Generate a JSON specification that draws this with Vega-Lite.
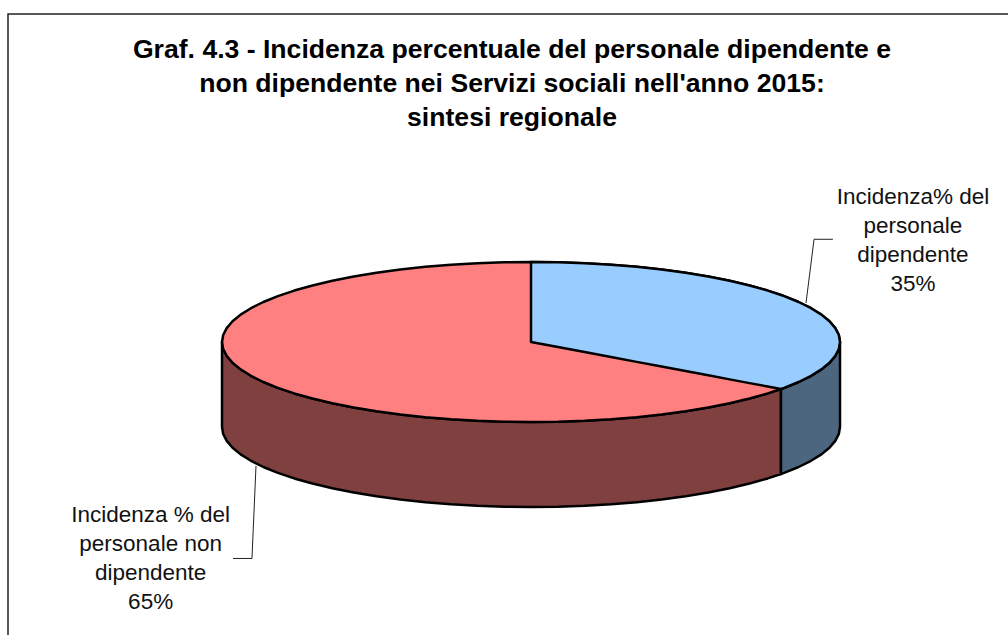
{
"$schema":"https://vega.github.io/schema/vega-lite/v6.json",
"width":1000,"height":621,
"autosize":"none",
"padding":{"left":8,"top":14,"right":0,"bottom":0},
"background":"white",
"view":{"stroke":null,"fill":"white"},
"title":{"text":["Graf. 4.3 - Incidenza percentuale del personale dipendente e","non dipendente nei Servizi sociali nell'anno 2015:","sintesi regionale"],"anchor":"middle","frame":"group","font":"Liberation Sans","fontSize":26.6,"fontWeight":"bold","color":"black","lineHeight":34,"baseline":"alphabetic","offset":-142,"dx":4},
"datasets":{
"cornice":[{"ord":1,"x":-1.6926,"y":-3.6625},{"ord":2,"x":-1.6926,"y":4.1},{"ord":3,"x":1.5437,"y":4.1}],
"lato65":[
{"part":"non dipendente, lato","x":-1,"y":0,"y2":-1.0625},{"part":"non dipendente, lato","x":-0.9962,"y":-0.0872,"y2":-1.1497},{"part":"non dipendente, lato","x":-0.9848,"y":-0.1736,"y2":-1.2361},{"part":"non dipendente, lato","x":-0.9659,"y":-0.2588,"y2":-1.3213},{"part":"non dipendente, lato","x":-0.9397,"y":-0.342,"y2":-1.4045},{"part":"non dipendente, lato","x":-0.9063,"y":-0.4226,"y2":-1.4851},{"part":"non dipendente, lato","x":-0.866,"y":-0.5,"y2":-1.5625},{"part":"non dipendente, lato","x":-0.8192,"y":-0.5736,"y2":-1.6361},{"part":"non dipendente, lato","x":-0.766,"y":-0.6428,"y2":-1.7053},{"part":"non dipendente, lato","x":-0.7071,"y":-0.7071,"y2":-1.7696},{"part":"non dipendente, lato","x":-0.6428,"y":-0.766,"y2":-1.8285},{"part":"non dipendente, lato","x":-0.5736,"y":-0.8192,"y2":-1.8817},{"part":"non dipendente, lato","x":-0.5,"y":-0.866,"y2":-1.9285},{"part":"non dipendente, lato","x":-0.4226,"y":-0.9063,"y2":-1.9688},{"part":"non dipendente, lato","x":-0.342,"y":-0.9397,"y2":-2.0022},{"part":"non dipendente, lato","x":-0.2588,"y":-0.9659,"y2":-2.0284},{"part":"non dipendente, lato","x":-0.1736,"y":-0.9848,"y2":-2.0473},{"part":"non dipendente, lato","x":-0.0872,"y":-0.9962,"y2":-2.0587},{"part":"non dipendente, lato","x":0,"y":-1,"y2":-2.0625},{"part":"non dipendente, lato","x":0.0872,"y":-0.9962,"y2":-2.0587},{"part":"non dipendente, lato","x":0.1736,"y":-0.9848,"y2":-2.0473},{"part":"non dipendente, lato","x":0.2588,"y":-0.9659,"y2":-2.0284},{"part":"non dipendente, lato","x":0.342,"y":-0.9397,"y2":-2.0022},{"part":"non dipendente, lato","x":0.4226,"y":-0.9063,"y2":-1.9688},{"part":"non dipendente, lato","x":0.5,"y":-0.866,"y2":-1.9285},{"part":"non dipendente, lato","x":0.5736,"y":-0.8192,"y2":-1.8817},{"part":"non dipendente, lato","x":0.6428,"y":-0.766,"y2":-1.8285},{"part":"non dipendente, lato","x":0.7071,"y":-0.7071,"y2":-1.7696},{"part":"non dipendente, lato","x":0.766,"y":-0.6428,"y2":-1.7053},{"part":"non dipendente, lato","x":0.809,"y":-0.5878,"y2":-1.6503}
],
"lato35":[
{"part":"dipendente, lato","x":0.809,"y":-0.5878,"y2":-1.6503},{"part":"dipendente, lato","x":0.8192,"y":-0.5736,"y2":-1.6361},{"part":"dipendente, lato","x":0.866,"y":-0.5,"y2":-1.5625},{"part":"dipendente, lato","x":0.9063,"y":-0.4226,"y2":-1.4851},{"part":"dipendente, lato","x":0.9397,"y":-0.342,"y2":-1.4045},{"part":"dipendente, lato","x":0.9659,"y":-0.2588,"y2":-1.3213},{"part":"dipendente, lato","x":0.9848,"y":-0.1736,"y2":-1.2361},{"part":"dipendente, lato","x":0.9962,"y":-0.0872,"y2":-1.1497},{"part":"dipendente, lato","x":1,"y":0,"y2":-1.0625}
],
"faccia65":[
{"part":"non dipendente, faccia","x":-1,"y":0,"y2":0},{"part":"non dipendente, faccia","x":-0.9962,"y":0.0872,"y2":-0.0872},{"part":"non dipendente, faccia","x":-0.9848,"y":0.1736,"y2":-0.1736},{"part":"non dipendente, faccia","x":-0.9659,"y":0.2588,"y2":-0.2588},{"part":"non dipendente, faccia","x":-0.9397,"y":0.342,"y2":-0.342},{"part":"non dipendente, faccia","x":-0.9063,"y":0.4226,"y2":-0.4226},{"part":"non dipendente, faccia","x":-0.866,"y":0.5,"y2":-0.5},{"part":"non dipendente, faccia","x":-0.8192,"y":0.5736,"y2":-0.5736},{"part":"non dipendente, faccia","x":-0.766,"y":0.6428,"y2":-0.6428},{"part":"non dipendente, faccia","x":-0.7071,"y":0.7071,"y2":-0.7071},{"part":"non dipendente, faccia","x":-0.6428,"y":0.766,"y2":-0.766},{"part":"non dipendente, faccia","x":-0.5736,"y":0.8192,"y2":-0.8192},{"part":"non dipendente, faccia","x":-0.5,"y":0.866,"y2":-0.866},{"part":"non dipendente, faccia","x":-0.4226,"y":0.9063,"y2":-0.9063},{"part":"non dipendente, faccia","x":-0.342,"y":0.9397,"y2":-0.9397},{"part":"non dipendente, faccia","x":-0.2588,"y":0.9659,"y2":-0.9659},{"part":"non dipendente, faccia","x":-0.1736,"y":0.9848,"y2":-0.9848},{"part":"non dipendente, faccia","x":-0.0872,"y":0.9962,"y2":-0.9962},{"part":"non dipendente, faccia","x":0,"y":1,"y2":-1},{"part":"non dipendente, faccia","x":0.0872,"y":0.9962,"y2":-0.9962},{"part":"non dipendente, faccia","x":0.1736,"y":0.9848,"y2":-0.9848},{"part":"non dipendente, faccia","x":0.2588,"y":0.9659,"y2":-0.9659},{"part":"non dipendente, faccia","x":0.342,"y":0.9397,"y2":-0.9397},{"part":"non dipendente, faccia","x":0.4226,"y":0.9063,"y2":-0.9063},{"part":"non dipendente, faccia","x":0.5,"y":0.866,"y2":-0.866},{"part":"non dipendente, faccia","x":0.5736,"y":0.8192,"y2":-0.8192},{"part":"non dipendente, faccia","x":0.6428,"y":0.766,"y2":-0.766},{"part":"non dipendente, faccia","x":0.7071,"y":0.7071,"y2":-0.7071},{"part":"non dipendente, faccia","x":0.766,"y":0.6428,"y2":-0.6428},{"part":"non dipendente, faccia","x":0.809,"y":0.5878,"y2":-0.5878},{"part":"non dipendente, faccia","x":0.8192,"y":0.5736,"y2":-0.5736},{"part":"non dipendente, faccia","x":0.866,"y":0.5,"y2":-0.5},{"part":"non dipendente, faccia","x":0.9063,"y":0.4226,"y2":-0.4226},{"part":"non dipendente, faccia","x":0.9397,"y":0.342,"y2":-0.342},{"part":"non dipendente, faccia","x":0.9659,"y":0.2588,"y2":-0.2588},{"part":"non dipendente, faccia","x":0.9848,"y":0.1736,"y2":-0.1736},{"part":"non dipendente, faccia","x":0.9962,"y":0.0872,"y2":-0.0872},{"part":"non dipendente, faccia","x":1,"y":0,"y2":0}
],
"faccia35":[
{"part":"dipendente, faccia","x":0,"y":1,"y2":0},{"part":"dipendente, faccia","x":0.0872,"y":0.9962,"y2":-0.0634},{"part":"dipendente, faccia","x":0.1736,"y":0.9848,"y2":-0.1261},{"part":"dipendente, faccia","x":0.2588,"y":0.9659,"y2":-0.188},{"part":"dipendente, faccia","x":0.342,"y":0.9397,"y2":-0.2485},{"part":"dipendente, faccia","x":0.4226,"y":0.9063,"y2":-0.307},{"part":"dipendente, faccia","x":0.5,"y":0.866,"y2":-0.3633},{"part":"dipendente, faccia","x":0.5736,"y":0.8192,"y2":-0.4168},{"part":"dipendente, faccia","x":0.6428,"y":0.766,"y2":-0.467},{"part":"dipendente, faccia","x":0.7071,"y":0.7071,"y2":-0.5138},{"part":"dipendente, faccia","x":0.766,"y":0.6428,"y2":-0.5566},{"part":"dipendente, faccia","x":0.809,"y":0.5878,"y2":-0.5878},{"part":"dipendente, faccia","x":0.8192,"y":0.5736,"y2":-0.5736},{"part":"dipendente, faccia","x":0.866,"y":0.5,"y2":-0.5},{"part":"dipendente, faccia","x":0.9063,"y":0.4226,"y2":-0.4226},{"part":"dipendente, faccia","x":0.9397,"y":0.342,"y2":-0.342},{"part":"dipendente, faccia","x":0.9659,"y":0.2588,"y2":-0.2588},{"part":"dipendente, faccia","x":0.9848,"y":0.1736,"y2":-0.1736},{"part":"dipendente, faccia","x":0.9962,"y":0.0872,"y2":-0.0872},{"part":"dipendente, faccia","x":1,"y":0,"y2":0}
],
"leader":[
{"serie":"dipendente","ord":1,"x":0.89,"y":0.4875},{"serie":"dipendente","ord":2,"x":0.916,"y":1.284},{"serie":"dipendente","ord":3,"x":0.977,"y":1.284},
{"serie":"non dipendente","ord":1,"x":-0.89,"y":-1.55},{"serie":"non dipendente","ord":2,"x":-0.903,"y":-2.706},{"serie":"non dipendente","ord":3,"x":-0.964,"y":-2.706}
],
"etichette":[
{"x":1.236,"y":1.725,"label":"Incidenza% del\npersonale\ndipendente\n35%"},
{"x":-1.231,"y":-2.246,"label":"Incidenza % del\npersonale non\ndipendente\n65%"}
]
},
"encoding":{
"x":{"field":"x","type":"quantitative","axis":null,"scale":{"domain":[-1.6926,1.5437],"nice":false,"zero":false}},
"y":{"field":"y","type":"quantitative","axis":null,"scale":{"domain":[-3.6625,4.1],"nice":false,"zero":false}}
},
"layer":[
{"data":{"name":"cornice"},"mark":{"type":"line","stroke":"#222222","strokeWidth":1.5},"encoding":{"order":{"field":"ord","type":"ordinal"}}},
{"data":{"name":"lato65"},"mark":{"type":"area","stroke":"black","strokeWidth":2.5,"strokeJoin":"round"},"encoding":{"y2":{"field":"y2"},"color":{"field":"part","type":"nominal","legend":null,"scale":{"domain":["non dipendente, lato","dipendente, lato","non dipendente, faccia","dipendente, faccia"],"range":["#804040","#4D6680","#FF8080","#99CCFF"]}}}},
{"data":{"name":"lato35"},"mark":{"type":"area","stroke":"black","strokeWidth":2.5,"strokeJoin":"round"},"encoding":{"y2":{"field":"y2"},"color":{"field":"part","type":"nominal","legend":null}}},
{"data":{"name":"faccia65"},"mark":{"type":"area","stroke":"black","strokeWidth":2.5,"strokeJoin":"round"},"encoding":{"y2":{"field":"y2"},"color":{"field":"part","type":"nominal","legend":null}}},
{"data":{"name":"faccia35"},"mark":{"type":"area","stroke":"black","strokeWidth":2.5,"strokeJoin":"round"},"encoding":{"y2":{"field":"y2"},"color":{"field":"part","type":"nominal","legend":null}}},
{"data":{"name":"leader"},"mark":{"type":"line","stroke":"#222222","strokeWidth":1},"encoding":{"detail":{"field":"serie"},"order":{"field":"ord","type":"ordinal"}}},
{"data":{"name":"etichette"},"mark":{"type":"text","font":"Liberation Sans","fontSize":22.5,"lineHeight":29,"align":"center","baseline":"alphabetic","lineBreak":"\n","color":"#111111"},"encoding":{"text":{"field":"label"}}}
]
}
